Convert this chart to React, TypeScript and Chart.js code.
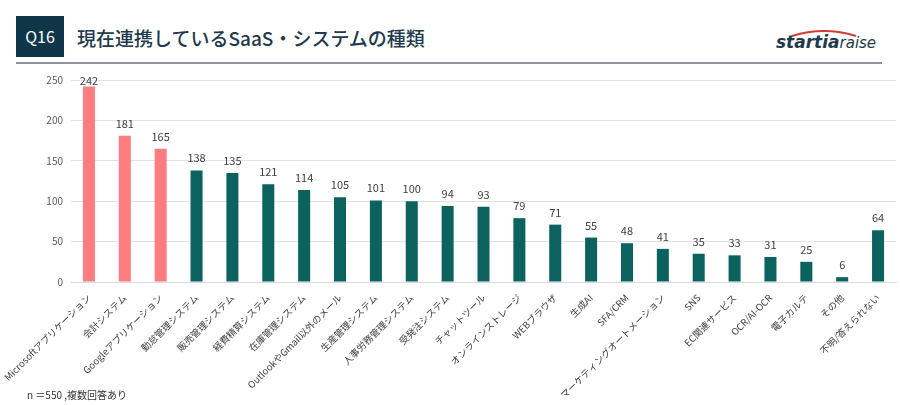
import React, { useEffect, useRef } from "react";
import { Chart, registerables } from "chart.js";

Chart.register(...registerables);

const categories: string[] = [
  "Microsoftアプリケーション",
  "会計システム",
  "Googleアプリケーション",
  "勤怠管理システム",
  "販売管理システム",
  "経費精算システム",
  "在庫管理システム",
  "OutlookやGmail以外のメール",
  "生産管理システム",
  "人事労務管理システム",
  "受発注システム",
  "チャットツール",
  "オンラインストレージ",
  "WEBブラウザ",
  "生成AI",
  "SFA/CRM",
  "マーケティングオートメーション",
  "SNS",
  "EC関連サービス",
  "OCR/AI-OCR",
  "電子カルテ",
  "その他",
  "不明/答えられない",
];

const values: number[] = [
  242, 181, 165, 138, 135, 121, 114, 105, 101, 100, 94, 93, 79, 71, 55, 48, 41,
  35, 33, 31, 25, 6, 64,
];

const highlightedTop = 3;

const yMin = 0;
const yMax = 250;
const yStep = 50;

const titleText = "現在連携しているSaaS・システムの種類";
const questionLabel = "Q16";
const footnote = "n ＝550 ,複数回答あり";

const PINK = "#ff7c80";
const TEAL = "#0b625e";
const FONT = "'Noto Sans CJK JP', 'Noto Sans', sans-serif";

const valueLabelPlugin = {
  id: "valueLabels",
  afterDatasetsDraw(chart: any) {
    const ctx = chart.ctx;
    const meta = chart.getDatasetMeta(0);
    const area = chart.chartArea;
    ctx.save();
    ctx.font = `11px ${FONT}`;
    ctx.fillStyle = "#404040";
    ctx.textAlign = "center";
    ctx.textBaseline = "alphabetic";
    meta.data.forEach((bar: any, i: number) => {
      const y = Math.max(bar.y - 8, area.top + 5);
      ctx.fillText(String(values[i]), bar.x, y);
    });
    ctx.restore();
  },
};

export default function App() {
  const canvasRef = useRef<HTMLCanvasElement | null>(null);

  useEffect(() => {
    if (!canvasRef.current) return;
    const chart = new Chart(canvasRef.current, {
      type: "bar",
      data: {
        labels: categories,
        datasets: [
          {
            data: values,
            backgroundColor: values.map((_, i) => (i < highlightedTop ? PINK : TEAL)),
            categoryPercentage: 1,
            barPercentage: 0.335,
          },
        ],
      },
      options: {
        animation: false,
        responsive: false,
        devicePixelRatio: 1,
        layout: { padding: { left: 0, right: 4, top: 11, bottom: 0 } },
        plugins: {
          legend: { display: false },
          tooltip: { enabled: false },
        },
        scales: {
          x: {
            grid: { display: false, drawTicks: false },
            border: { display: true, color: "#d9d9d9", width: 1 },
            ticks: {
              autoSkip: false,
              minRotation: 45,
              maxRotation: 45,
              padding: 10,
              color: "#404040",
              font: { family: FONT, size: 9.5 },
            },
            afterFit(scale: any) {
              scale.height = 123;
              scale.paddingLeft = 0;
              scale.paddingRight = 0;
            },
          },
          y: {
            min: yMin,
            max: yMax,
            grid: { color: "#e3e3e3", drawTicks: false, lineWidth: 1 },
            border: { display: false },
            ticks: {
              stepSize: yStep,
              padding: 8,
              color: "#595959",
              font: { family: FONT, size: 10 },
            },
            afterFit(scale: any) {
              scale.width = 71;
            },
          },
        },
      },
      plugins: [valueLabelPlugin],
    });
    return () => chart.destroy();
  }, []);

  return (
    <div
      style={{
        position: "fixed",
        left: 0,
        top: 0,
        width: 900,
        height: 405,
        background: "#ffffff",
        overflow: "hidden",
        fontFamily: FONT,
      }}
    >
      <div
        style={{
          position: "absolute",
          left: 16,
          top: 16,
          width: 48,
          height: 41,
          background: "#0e3548",
          color: "#ffffff",
          fontSize: 16,
          lineHeight: "41px",
          textAlign: "center",
        }}
      >
        {questionLabel}
      </div>
      <div
        style={{
          position: "absolute",
          left: 77,
          top: 25,
          fontSize: 19,
          lineHeight: "26px",
          color: "#1f3a4d",
          fontWeight: 500,
          whiteSpace: "nowrap",
        }}
      >
        {titleText}
      </div>
      <svg
        width={120}
        height={40}
        style={{ position: "absolute", left: 765, top: 22 }}
      >
        <path
          d="M 27 14 Q 59 4 91 14"
          stroke="#d23c3c"
          strokeWidth={2}
          fill="none"
        />
      </svg>
      <div
        style={{
          position: "absolute",
          left: 776,
          top: 31,
          fontSize: 17,
          lineHeight: "22px",
          color: "#1f3a4d",
          whiteSpace: "nowrap",
          fontFamily: "'DejaVu Sans', sans-serif",
          fontStyle: "italic",
          letterSpacing: 0,
        }}
      >
        <span style={{ fontWeight: 700 }}>startia</span>
        <span style={{ fontWeight: 400, fontSize: 15 }}>raise</span>
      </div>
      <div
        style={{
          position: "absolute",
          left: 16,
          top: 62,
          width: 866,
          height: 2,
          background: "#8d969e",
        }}
      />
      <canvas
        ref={canvasRef}
        width={900}
        height={339}
        style={{ position: "absolute", left: 0, top: 66, width: 900, height: 339 }}
      />
      <div
        style={{
          position: "absolute",
          left: 27,
          top: 388,
          fontSize: 10,
          lineHeight: "14px",
          color: "#333333",
          whiteSpace: "nowrap",
        }}
      >
        {footnote}
      </div>
    </div>
  );
}
